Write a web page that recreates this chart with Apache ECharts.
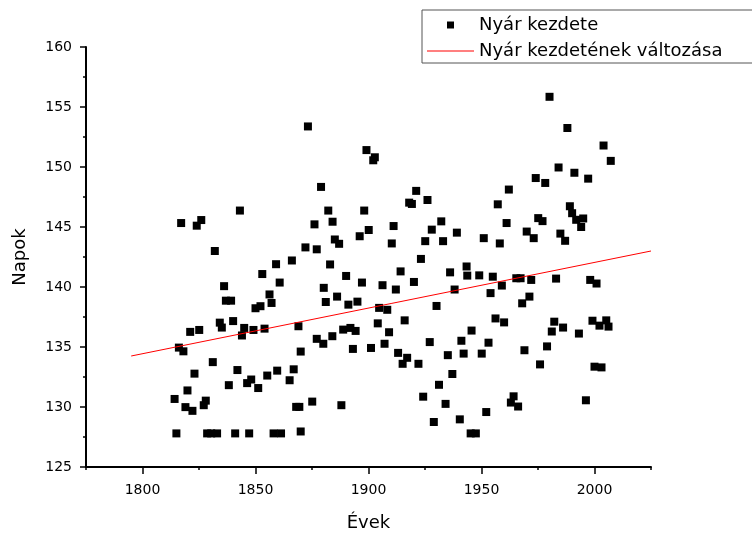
<!DOCTYPE html>
<html>
<head>
<meta charset="utf-8">
<script src="https://cdn.jsdelivr.net/npm/echarts@6/dist/echarts.min.js"></script>
<style>
  html, body { margin: 0; padding: 0; background: #fff; }
  #chart { width: 752px; height: 537px; }
</style>
</head>
<body>
<div id="chart"></div>
<script>
// nyár kezdete (év, nap)
var evek = [
  1815.0, 1814.2, 1816.1, 1818.1, 1821.1, 1819.0, 1819.9, 1822.1, 1823.0, 1825.1,
  1827.1, 1828.0, 1828.6, 1830.4, 1833.0, 1831.1, 1836.1, 1836.9, 1839.2, 1834.2,
  1835.1, 1838.2, 1840.1, 1841.0, 1842.0, 1844.0, 1845.0, 1846.3, 1847.2, 1848.1,
  1849.1, 1850.0, 1851.2, 1852.2, 1854.0, 1855.2, 1856.2, 1857.1, 1858.0, 1859.6,
  1861.3, 1860.7, 1853.0, 1859.1, 1817.1, 1824.0, 1826.0, 1843.1, 1832.0,
  1866.1, 1872.1, 1877.1, 1873.2, 1876.1, 1879.0, 1882.2, 1884.1, 1885.1, 1887.0,
  1883.0, 1880.2, 1886.1, 1890.1, 1896.1, 1898.1, 1899.1, 1902.8, 1902.1, 1900.1,
  1897.1, 1906.2, 1910.3, 1911.1, 1912.1, 1914.2, 1918.0, 1919.2, 1921.1, 1920.1,
  1923.2, 1925.1, 1926.1, 1928.0, 1932.2, 1933.0, 1936.1, 1938.1, 1939.1, 1943.4,
  1943.7, 1881.1, 1891.1, 1895.1, 1904.7, 1908.3, 1930.1, 1869.0, 1877.1, 1880.0,
  1884.0, 1888.8, 1892.0, 1894.3, 1904.1, 1909.1, 1916.0, 1870.0, 1893.1, 1901.1,
  1907.1, 1913.1, 1917.1, 1915.1, 1922.1, 1927.1, 1935.1, 1941.1, 1942.1, 1945.6,
  1866.9, 1865.1, 1937.1, 1931.2, 1924.2, 1934.1, 1940.4, 1928.9, 1868.0, 1869.4,
  1875.1, 1888.0, 1870.0, 1945.2, 1947.5,
  1980.1, 1988.0, 2004.0, 2007.2, 1984.1, 1991.1, 1997.2, 1974.0, 1978.2, 1962.1,
  1957.2, 1961.1, 1975.1, 1977.0, 1989.1, 1990.1, 1991.9, 1995.0, 1994.1, 1970.0,
  1973.1, 1984.9, 1987.0, 1951.0, 1958.1, 1949.0, 1955.0, 1959.0, 1965.4, 1967.3,
  1972.0, 1983.0, 1998.1, 2000.9, 1954.0, 1971.2, 1968.0, 1956.2, 1960.0, 1982.2,
  1981.1, 1986.1, 1999.1, 2002.2, 2005.2, 2006.2, 1993.1, 1953.1, 1950.1, 1969.0,
  1979.0, 1975.9, 2000.0, 2003.1, 1964.2, 1963.0, 1966.2, 1996.2, 1952.1
];
var napok = [
  127.8, 130.67, 134.95, 134.64, 136.26, 129.99, 131.38, 129.68, 132.78, 136.42,
  130.15, 130.53, 127.8, 127.8, 127.8, 133.74, 140.07, 138.86, 138.86, 137.03,
  136.62, 131.82, 137.16, 127.8, 133.08, 135.96, 136.59, 131.99, 127.8, 132.29,
  136.42, 138.23, 131.58, 138.40, 136.53, 132.62, 139.38, 138.67, 127.8, 133.03,
  127.8, 140.37, 141.08, 141.9, 145.33, 145.11, 145.58, 146.37, 143.0,
  142.21, 143.30, 143.14, 153.38, 145.22, 148.34, 146.37, 145.44, 143.96, 143.60,
  141.88, 139.93, 139.2, 140.92, 144.23, 146.37, 151.41, 150.81, 150.56, 144.75,
  140.37, 140.15, 143.63, 145.08, 139.79, 141.30, 147.03, 146.92, 148.01, 140.42,
  142.34, 143.82, 147.25, 144.78, 145.47, 143.82, 141.22, 139.79, 144.53, 141.71,
  140.95, 138.75, 138.53, 138.78, 138.26, 138.10, 138.42, 136.73, 135.68, 135.27,
  135.90, 136.45, 136.59, 136.34, 136.97, 136.23, 137.22, 134.62, 134.84, 134.92,
  135.27, 134.51, 134.10, 133.60, 133.60, 135.41, 134.32, 135.52, 134.45, 136.37,
  133.14, 132.23, 132.75, 131.85, 130.86, 130.26, 128.97, 128.75, 130.01, 130.01,
  130.45, 130.15, 127.96, 127.8, 127.8,
  155.85, 153.25, 151.79, 150.51, 149.96, 149.52, 149.03, 149.08, 148.67, 148.12,
  146.89, 145.33, 145.74, 145.49, 146.73, 146.15, 145.60, 145.71, 145.00, 144.62,
  144.07, 144.45, 143.85, 144.07, 143.63, 140.97, 140.86, 140.12, 140.73, 140.73,
  140.59, 140.70, 140.59, 140.29, 139.49, 139.2, 138.64, 137.38, 137.05, 137.11,
  136.29, 136.62, 137.19, 136.78, 137.22, 136.70, 136.12, 135.36, 134.45, 134.73,
  135.05, 133.55, 133.36, 133.30, 130.89, 130.37, 130.04, 130.56, 129.58
];
// illesztett egyenes végpontjai
var trendEvek = [1795, 2025];
var trendNapok = [134.25, 143.0];
// feliratozott évek a vízszintes tengelyen
var evCimkek = [1800, 1850, 1900, 1950, 2000];

var pontok = evek.map(function (e, i) { return [e, napok[i]]; });
var trend = trendEvek.map(function (e, i) { return [e, trendNapok[i]]; });

var dom = document.getElementById('chart');
var myChart = echarts.init(dom, null, { renderer: 'canvas' });

var font = 'DejaVu Sans, sans-serif';

var option = {
  backgroundColor: '#fff',
  animation: false,
  textStyle: { fontFamily: font },
  grid: { left: 86, right: 101, top: 47, bottom: 64 },
  legend: {
    left: 422,
    top: 10,
    orient: 'vertical',
    itemWidth: 47,
    itemHeight: 7,
    itemGap: 8,
    padding: [6, 40, 3, 5],
    symbolKeepAspect: true,
    borderColor: '#555',
    borderWidth: 1,
    textStyle: { fontFamily: font, fontSize: 18, color: '#000' },
    data: [
      { name: 'Nyár kezdete', icon: 'path://M0,0H10V10H0Z' },
      { name: 'Nyár kezdetének változása', icon: 'path://M0,0H47V1H0Z' }
    ]
  },
  xAxis: [
    {
      type: 'value',
      min: 1775,
      max: 2025,
      interval: 25,
      name: 'Évek',
      nameLocation: 'middle',
      nameGap: 47,
      nameTextStyle: { fontSize: 18, color: '#000', fontFamily: font },
      splitLine: { show: false },
      axisLine: { lineStyle: { color: '#000', width: 2 } },
      axisTick: { length: 3, lineStyle: { color: '#000', width: 1.5 } },
      axisLabel: { show: false }
    },
    {
      type: 'value',
      position: 'bottom',
      gridIndex: 0,
      min: 1775,
      max: 2025,
      splitLine: { show: false },
      axisLine: { show: false },
      axisTick: { show: true, length: 7, customValues: evCimkek, lineStyle: { color: '#000', width: 1.5 } },
      axisLabel: {
        color: '#000',
        fontSize: 14,
        margin: 16,
        customValues: evCimkek,
        formatter: function (v) { return String(v); }
      }
    }
  ],
  yAxis: {
    type: 'value',
    min: 125,
    max: 160,
    interval: 5,
    name: 'Napok',
    nameLocation: 'middle',
    nameGap: 57,
    nameTextStyle: { fontSize: 18, color: '#000', fontFamily: font },
    splitLine: { show: false },
    axisLine: { show: true, lineStyle: { color: '#000', width: 2 } },
    axisTick: { show: true, length: 6, lineStyle: { color: '#000', width: 1.5 } },
    minorTick: { show: true, splitNumber: 2, length: 3, lineStyle: { color: '#000', width: 1.5 } },
    axisLabel: { color: '#000', fontSize: 14, margin: 14 }
  },
  series: [
    {
      name: 'Nyár kezdete',
      type: 'scatter',
      symbol: 'rect',
      symbolSize: 8,
      itemStyle: { color: '#000', opacity: 1 },
      data: pontok
    },
    {
      name: 'Nyár kezdetének változása',
      type: 'line',
      symbol: 'none',
      lineStyle: { color: '#f00', width: 1 },
      itemStyle: { color: '#f00' },
      data: trend
    }
  ]
};

myChart.setOption(option);
window.addEventListener('resize', myChart.resize);
</script>
</body>
</html>
